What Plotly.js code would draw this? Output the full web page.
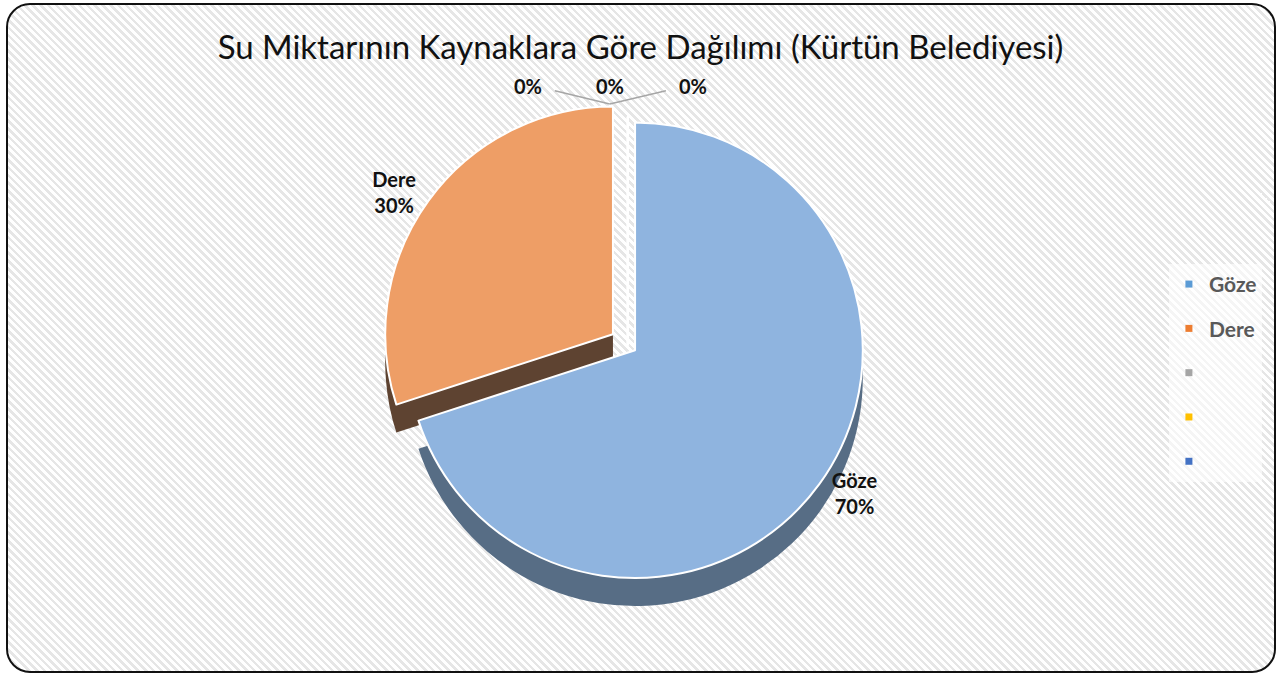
<!DOCTYPE html>
<html><head><meta charset="utf-8">
<script src="https://cdn.plot.ly/plotly-3.0.1.min.js"></script>
<style>
html,body{margin:0;padding:0;background:#fff;}
#frame{position:absolute;left:6px;top:3px;width:1266px;height:666px;border:2px solid #111;border-radius:24px;
background:repeating-linear-gradient(45deg,#ffffff 0px,#ffffff 3px,#e6e6e6 3px,#e6e6e6 5.5px);}
#chart{position:absolute;left:0;top:0;width:1281px;height:675px;}
</style></head>
<body>
<div id="frame"></div>
<div id="chart"></div>
<script>
const categories = ["Göze", "Dere", "\u200b", "\u200b\u200b", "\u200b\u200b\u200b"];
const values = [70, 30, 0, 0, 0];
const sliceColors = ["#8FB4DF", "#EE9E66", "#A5A5A5", "#FFC000", "#4472C4"];
const sideColors = ["#576D85", "#5E4331", "#777777", "#B08500", "#2F4F88"];
const legendColors = ["#5B9BD5", "#ED7D31", "#A5A5A5", "#FFC000", "#4472C4"];

const FONT = "Lato, 'Open Sans', sans-serif";
const total = values.reduce((a, b) => a + b, 0);
const pulls = [0.04, 0.08, 0, 0, 0];

const textPos = values.map(v => v > 0 ? "outside" : "none");

// depth (side) of the pie, drawn behind
const depthTrace = {
  type: "pie", labels: categories, values: values, sort: false,
  direction: "clockwise", rotation: 0, pull: pulls,
  marker: {colors: sideColors, line: {color: "rgba(0,0,0,0)", width: 0}},
  textinfo: "none", textposition: "none", hoverinfo: "skip",
  domain: {x: [0.298, 0.682], y: [0.0825, 0.8125]},
  showlegend: false
};

const faceTrace = {
  type: "pie", labels: categories, values: values, sort: false,
  direction: "clockwise", rotation: 0, pull: pulls,
  marker: {colors: sliceColors, line: {color: "#ffffff", width: 2}},
  texttemplate: "%{label}<br>%{percent:.0%}",
  textposition: textPos,
  textfont: {family: FONT, size: 20, color: "#111111", weight: "bold"},
  automargin: false,
  domain: {x: [0.298, 0.682], y: [0.124, 0.854]},
  showlegend: false
};

// legend entries (one per category)
const legendTraces = categories.map((c, i) => ({
  type: "scatter", mode: "markers", x: [null], y: [null], name: c,
  marker: {symbol: "square", size: 7, color: legendColors[i]},
  legendgroup: "g" + i, showlegend: true, hoverinfo: "skip"
}));

// 0% labels for empty slices
const zeroLabels = values.filter(v => v === 0).map(v => Math.round(v / total * 100) + "%");
const zeroX = [0.412, 0.476, 0.541];
const annotations = zeroLabels.map((t, k) => ({
  text: t, xref: "paper", yref: "paper", x: zeroX[k], y: 0.873,
  xanchor: "center", yanchor: "middle",
  showarrow: false, font: {family: FONT, size: 20, color: "#111111", weight: "bold"}
}));
annotations.push(
  {xref: "paper", yref: "paper", x: 0.476, y: 0.846, ax: 0.432, ay: 0.866, axref: "paper", ayref: "paper",
   showarrow: true, arrowhead: 0, arrowwidth: 1.5, arrowcolor: "#A6A6A6", text: ""},
  {xref: "paper", yref: "paper", x: 0.476, y: 0.846, ax: 0.521, ay: 0.866, axref: "paper", ayref: "paper",
   showarrow: true, arrowhead: 0, arrowwidth: 1.5, arrowcolor: "#A6A6A6", text: ""}
);

const layout = {
  width: 1281, height: 675,
  margin: {l: 0, r: 0, t: 0, b: 0},
  paper_bgcolor: "rgba(0,0,0,0)",
  plot_bgcolor: "rgba(0,0,0,0)",
  xaxis: {visible: false}, yaxis: {visible: false},
  title: {text: "Su Miktarının Kaynaklara Göre Dağılımı (Kürtün Belediyesi)",
    font: {family: FONT, size: 33, color: "#111111"},
    x: 0.5, xanchor: "center", y: 0.93, yanchor: "middle"},
  legend: {x: 0.9125, y: 0.609, xanchor: "left", yanchor: "top",
    font: {family: FONT, size: 21, color: "#595959", weight: "bold"},
    bgcolor: "rgba(255,255,255,0.6)", tracegroupgap: 14, itemwidth: 30},
  showlegend: true,
  annotations: annotations
};

Plotly.newPlot("chart", [depthTrace, faceTrace].concat(legendTraces), layout, {displayModeBar: false, staticPlot: true});
</script>
</body></html>
